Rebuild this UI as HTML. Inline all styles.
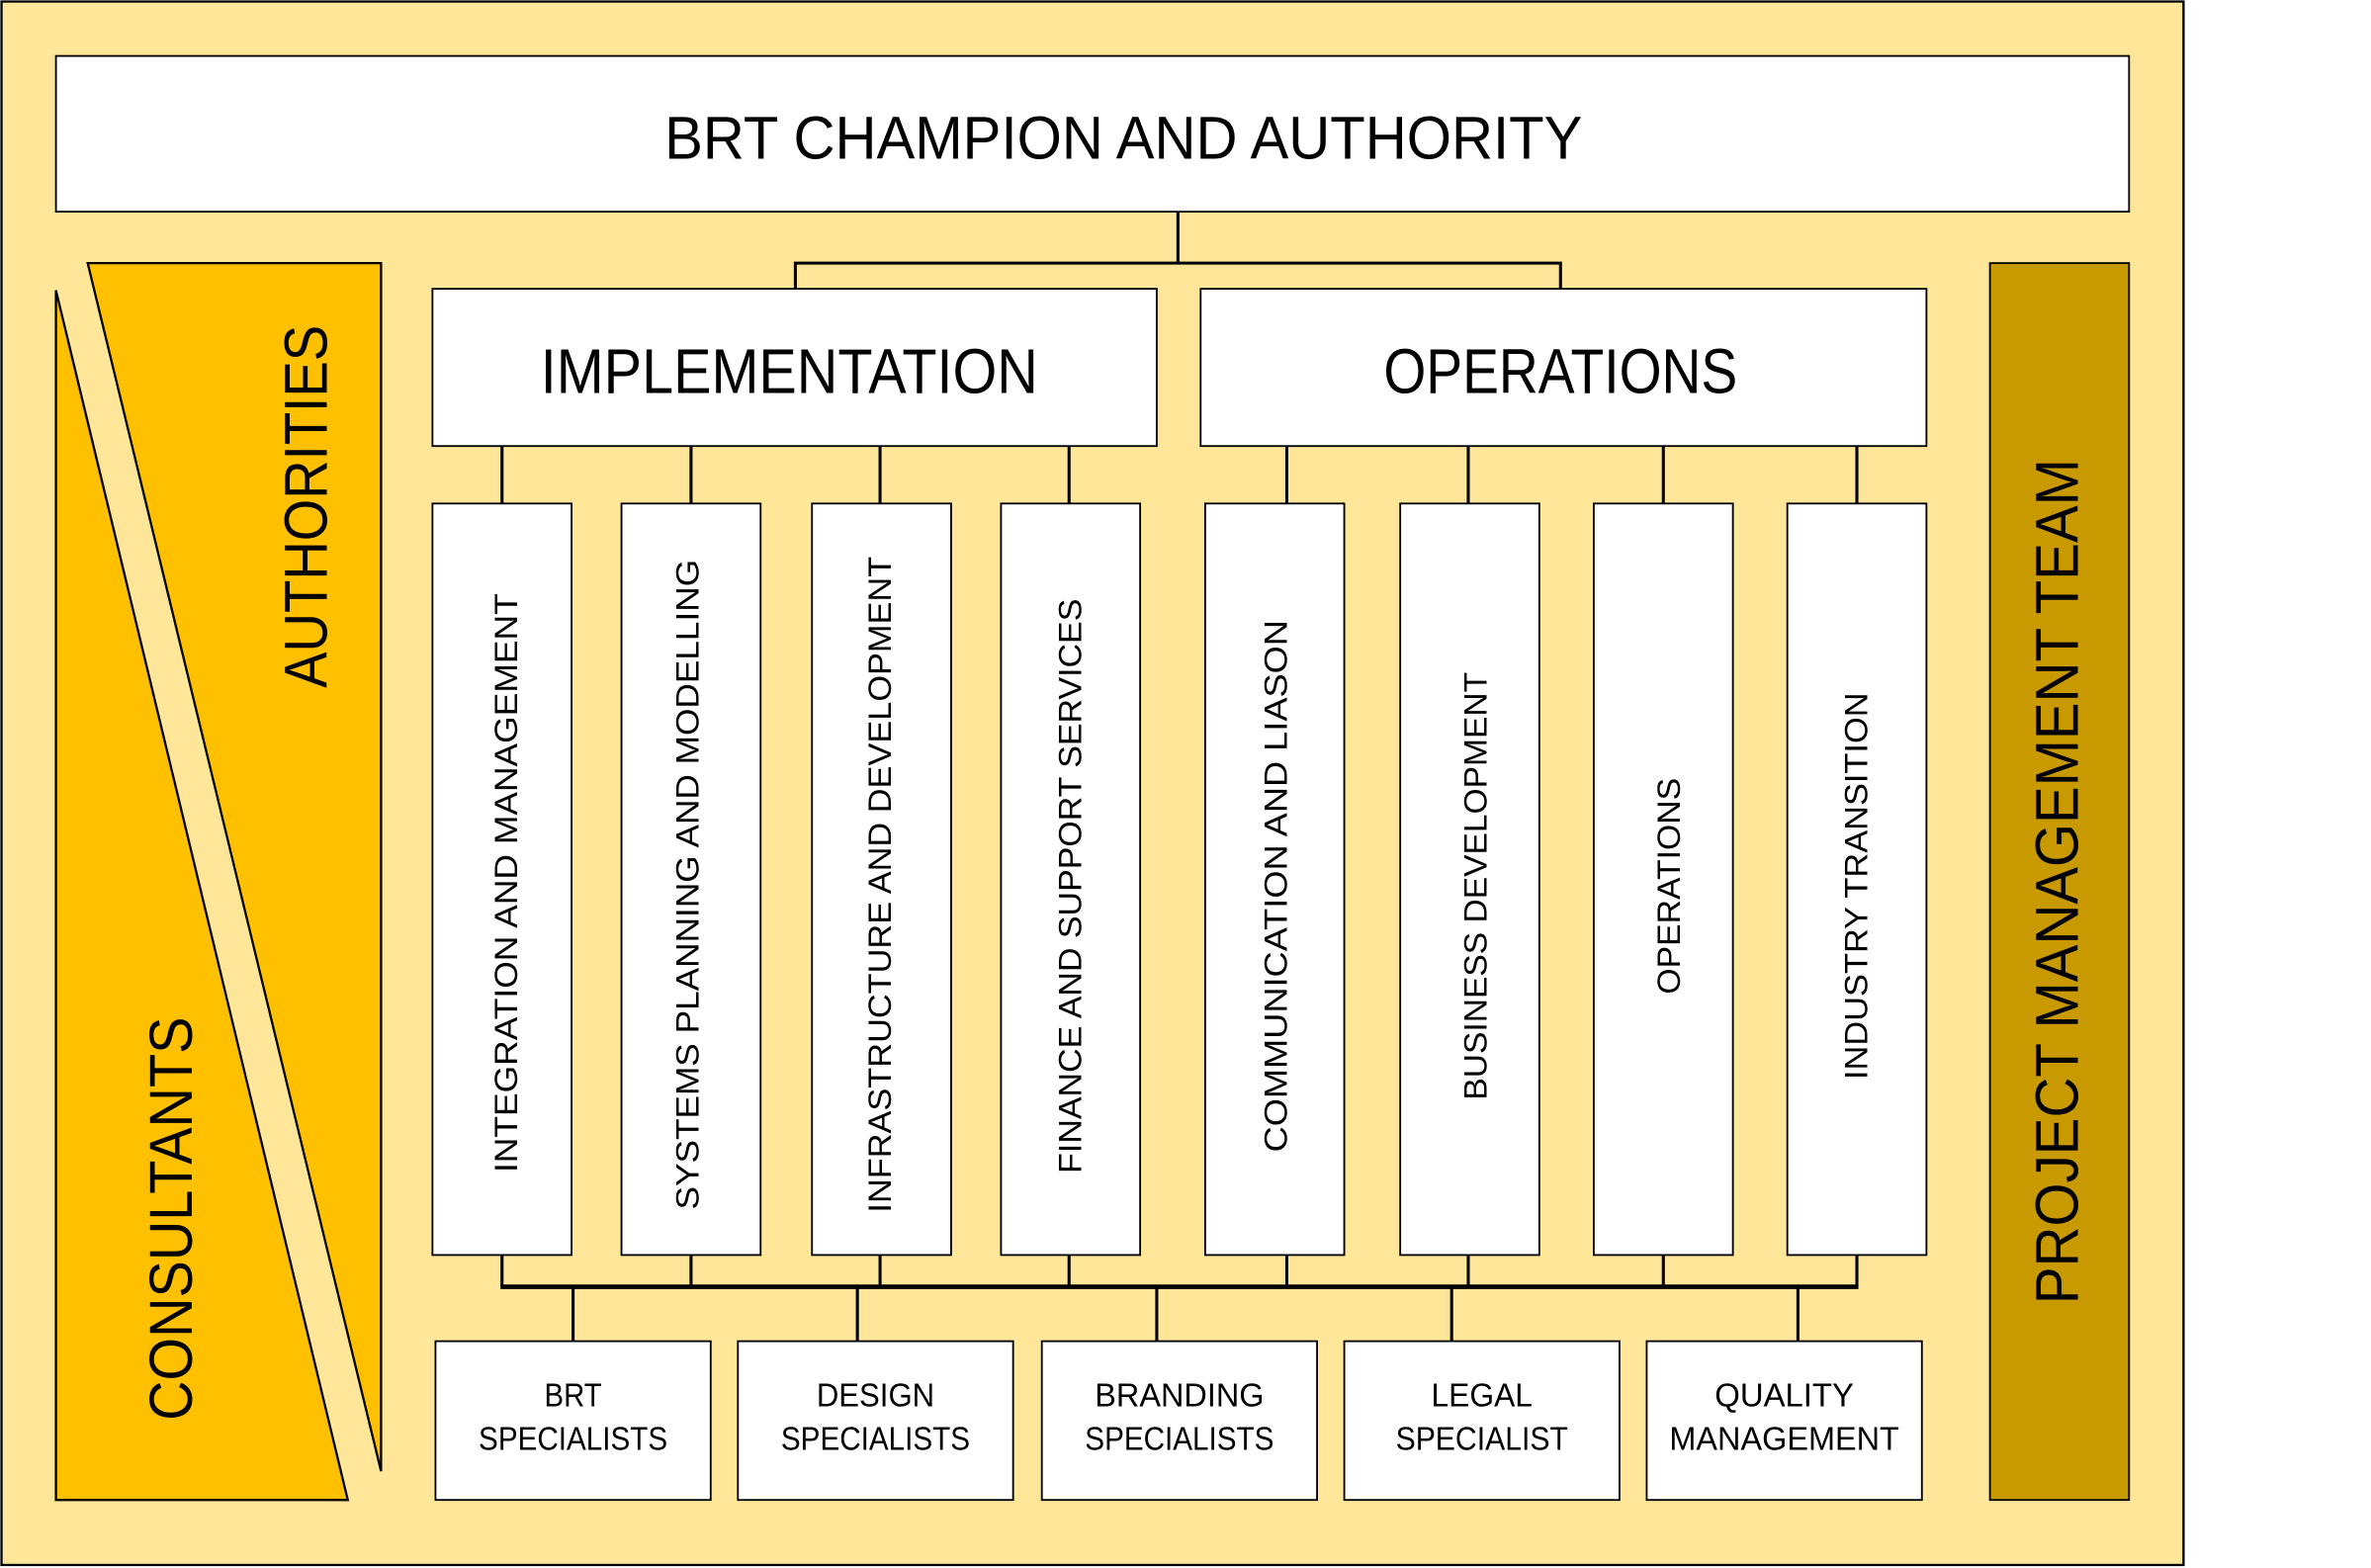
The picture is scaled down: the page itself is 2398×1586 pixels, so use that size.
<!DOCTYPE html>
<html><head><meta charset="utf-8"><style>html,body{margin:0;padding:0;background:#fff}svg{display:block}</style></head>
<body>
<svg width="2398" height="1586" viewBox="0 0 1568 1037" preserveAspectRatio="none" xmlns="http://www.w3.org/2000/svg" font-family="Liberation Sans, sans-serif">
<rect x="1" y="1" width="1443" height="1034" fill="#FFE699" stroke="#000" stroke-width="1.5"/>
<rect x="37" y="37" width="1371" height="103" fill="#fff" stroke="#000" stroke-width="1.2"/>
<text x="743" y="105" font-size="40" text-anchor="middle" textLength="607" lengthAdjust="spacingAndGlyphs">BRT CHAMPION AND AUTHORITY</text>
<g stroke="#000" stroke-width="2" fill="none">
<path d="M779 140V174M526 191V174H1032V191"/>
<path d="M332 295V333M457 295V333M582 295V333M707 295V333M851 295V333M971 295V333M1100 295V333M1228 295V333"/>
<path d="M332 830V851M457 830V851M582 830V851M707 830V851M851 830V851M971 830V851M1100 830V851M1228 830V851"/>
<path d="M331 851H1229" stroke-width="3"/>
<path d="M379 851V887M567 851V887M765 851V887M960 851V887M1189 851V887"/>
</g>
<polygon points="37,192 230,992 37,992" fill="#FFC000" stroke="#000" stroke-width="1.5"/>
<polygon points="58,174 252,174 252,973" fill="#FFC000" stroke="#000" stroke-width="1.5"/>
<rect x="1316" y="174" width="92" height="818" fill="#C99A00" stroke="#000" stroke-width="1.2"/>
<text transform="translate(216,335) rotate(-90)" font-size="40" text-anchor="middle" textLength="240" lengthAdjust="spacingAndGlyphs">AUTHORITIES</text>
<text transform="translate(127,806) rotate(-90)" font-size="40" text-anchor="middle" textLength="267" lengthAdjust="spacingAndGlyphs">CONSULTANTS</text>
<text transform="translate(1374,583) rotate(-90)" font-size="40" text-anchor="middle" textLength="559" lengthAdjust="spacingAndGlyphs">PROJECT MANAGEMENT TEAM</text>
<g fill="#fff" stroke="#000" stroke-width="1.2">
<rect x="286" y="191" width="479" height="104"/>
<rect x="794" y="191" width="480" height="104"/>
<rect x="286" y="333" width="92" height="497"/>
<rect x="411" y="333" width="92" height="497"/>
<rect x="537" y="333" width="92" height="497"/>
<rect x="662" y="333" width="92" height="497"/>
<rect x="797" y="333" width="92" height="497"/>
<rect x="926" y="333" width="92" height="497"/>
<rect x="1054" y="333" width="92" height="497"/>
<rect x="1182" y="333" width="92" height="497"/>
<rect x="288" y="887" width="182" height="105"/>
<rect x="488" y="887" width="182" height="105"/>
<rect x="689" y="887" width="182" height="105"/>
<rect x="889" y="887" width="182" height="105"/>
<rect x="1089" y="887" width="182" height="105"/>
</g>
<text x="522" y="260" font-size="42" text-anchor="middle" textLength="329" lengthAdjust="spacingAndGlyphs">IMPLEMENTATION</text>
<text x="1032" y="260" font-size="42" text-anchor="middle" textLength="234" lengthAdjust="spacingAndGlyphs">OPERATIONS</text>
<g font-size="21" text-anchor="middle">
<text transform="translate(342,584) rotate(-90)" textLength="383" lengthAdjust="spacingAndGlyphs">INTEGRATION AND MANAGEMENT</text>
<text transform="translate(462,585) rotate(-90)" textLength="430" lengthAdjust="spacingAndGlyphs">SYSTEMS PLANNING AND MODELLING</text>
<text transform="translate(589,585) rotate(-90)" textLength="434" lengthAdjust="spacingAndGlyphs">INFRASTRUCTURE AND DEVELOPMENT</text>
<text transform="translate(715,586) rotate(-90)" textLength="380" lengthAdjust="spacingAndGlyphs">FINANCE AND SUPPORT SERVICES</text>
<text transform="translate(851,586) rotate(-90)" textLength="352" lengthAdjust="spacingAndGlyphs">COMMUNICATION AND LIASON</text>
<text transform="translate(983,586) rotate(-90)" textLength="283" lengthAdjust="spacingAndGlyphs">BUSINESS DEVELOPMENT</text>
<text transform="translate(1111,586) rotate(-90)" textLength="143" lengthAdjust="spacingAndGlyphs">OPERATIONS</text>
<text transform="translate(1235,586) rotate(-90)" textLength="256" lengthAdjust="spacingAndGlyphs">INDUSTRY TRANSITION</text>
</g>
<g font-size="22" text-anchor="middle">
<text x="379" y="930" textLength="38" lengthAdjust="spacingAndGlyphs">BRT</text>
<text x="379" y="959" textLength="125" lengthAdjust="spacingAndGlyphs">SPECIALISTS</text>
<text x="579" y="930" textLength="78" lengthAdjust="spacingAndGlyphs">DESIGN</text>
<text x="579" y="959" textLength="125" lengthAdjust="spacingAndGlyphs">SPECIALISTS</text>
<text x="780" y="930" textLength="112" lengthAdjust="spacingAndGlyphs">BRANDING</text>
<text x="780" y="959" textLength="125" lengthAdjust="spacingAndGlyphs">SPECIALISTS</text>
<text x="980" y="930" textLength="67" lengthAdjust="spacingAndGlyphs">LEGAL</text>
<text x="980" y="959" textLength="114" lengthAdjust="spacingAndGlyphs">SPECIALIST</text>
<text x="1180" y="930" textLength="92" lengthAdjust="spacingAndGlyphs">QUALITY</text>
<text x="1180" y="959" textLength="152" lengthAdjust="spacingAndGlyphs">MANAGEMENT</text>
</g>
</svg>
</body></html>
